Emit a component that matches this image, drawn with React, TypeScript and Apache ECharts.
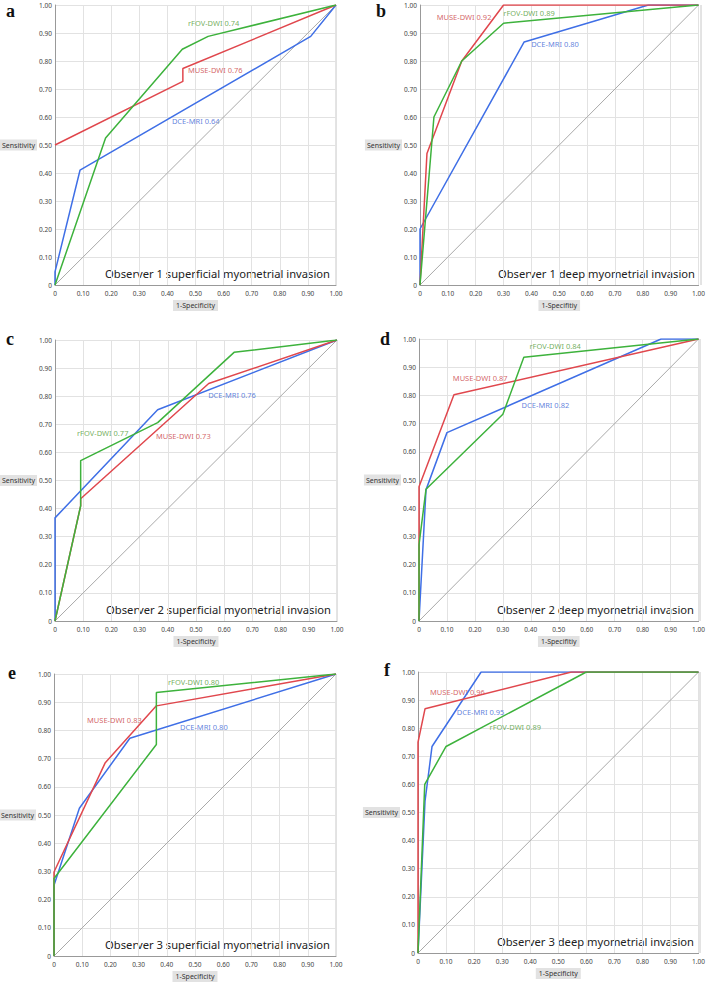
import React, { useEffect, useRef } from "react";
import * as echarts from "echarts";

// ---------- data ----------
const panelLetters = ["a", "b", "c", "d", "e", "f"];
const panelTitles = [
  "Observer 1 superficial myometrial invasion",
  "Observer 1 deep myometrial invasion",
  "Observer 2 superficial myometrial invasion",
  "Observer 2 deep myometrial invasion",
  "Observer 3 superficial myometrial invasion",
  "Observer 3 deep myometrial invasion",
];
const xAxisNames = ["1-Specificity", "1-Specifitiy", "1-Specificity", "1-Specifitiy", "1-Specificity", "1-Specificity"];
const yAxisName = "Sensitivity";
const methodNames = ["MUSE-DWI", "rFOV-DWI", "DCE-MRI"];

const aucMuse = [0.76, 0.92, 0.73, 0.87, 0.83, 0.96];
const aucRfov = [0.74, 0.89, 0.77, 0.84, 0.8, 0.89];
const aucDce = [0.64, 0.8, 0.76, 0.82, 0.8, 0.95];

const diagonal = [[0, 0], [1, 1]];

// ROC points [1-specificity, sensitivity]
const museA = [[0, 0.5], [0.455, 0.727], [0.455, 0.773], [1, 1]];
const rfovA = [[0, 0], [0.18, 0.525], [0.453, 0.842], [0.545, 0.888], [1, 1]];
const dceA = [[0, 0], [0, 0.047], [0.089, 0.41], [0.91, 0.888], [1, 1]];

const museB = [[0, 0], [0.025, 0.47], [0.15, 0.8], [0.3, 1], [1, 1]];
const rfovB = [[0, 0], [0.05, 0.6], [0.15, 0.8], [0.3, 0.935], [1, 1]];
const dceB = [[0, 0], [0, 0.2], [0.374, 0.868], [0.82, 1], [1, 1]];

const museC = [[0, 0], [0.091, 0.41], [0.091, 0.435], [0.545, 0.845], [1, 1]];
const rfovC = [[0, 0], [0.091, 0.41], [0.091, 0.571], [0.364, 0.706], [0.635, 0.956], [1, 1]];
const dceC = [[0, 0], [0, 0.367], [0.364, 0.752], [1, 1]];

const museD = [[0, 0], [0, 0.476], [0.125, 0.802], [1, 1]];
const rfovD = [[0, 0], [0, 0.27], [0.025, 0.467], [0.3, 0.733], [0.375, 0.935], [1, 1]];
const dceD = [[0, 0], [0.025, 0.465], [0.1, 0.668], [0.866, 1], [1, 1]];

const museE = [[0, 0], [0, 0.298], [0.181, 0.684], [0.363, 0.887], [1, 1]];
const rfovE = [[0, 0], [0, 0.275], [0.363, 0.75], [0.363, 0.934], [1, 1]];
const dceE = [[0, 0], [0, 0.251], [0.09, 0.524], [0.269, 0.772], [1, 1]];

const museF = [[0, 0], [0, 0.75], [0.025, 0.869], [0.547, 1], [1, 1]];
const rfovF = [[0, 0], [0.024, 0.6], [0.1, 0.735], [0.6, 1], [1, 1]];
const dceF = [[0, 0], [0.025, 0.54], [0.05, 0.735], [0.225, 1], [1, 1]];

const museCurves = [museA, museB, museC, museD, museE, museF];
const rfovCurves = [rfovA, rfovB, rfovC, rfovD, rfovE, rfovF];
const dceCurves = [dceA, dceB, dceC, dceD, dceE, dceF];

// label anchors (data coords) for MUSE, rFOV, DCE
const museLabelAt = [[0.473, 0.768], [0.06, 0.957], [0.358, 0.658], [0.121, 0.862], [0.117, 0.837], [0.043, 0.929]];
const rfovLabelAt = [[0.473, 0.936], [0.299, 0.971], [0.078, 0.669], [0.395, 0.975], [0.404, 0.972], [0.255, 0.804]];
const dceLabelAt = [[0.416, 0.586], [0.399, 0.861], [0.543, 0.804], [0.367, 0.766], [0.447, 0.812], [0.138, 0.858]];

// ---------- layout / style ----------
const grids = [
  { left: 55, top: 5, width: 281, height: 280 },
  { left: 420, top: 5, width: 281, height: 280 },
  { left: 55, top: 340, width: 282, height: 281 },
  { left: 419, top: 339, width: 281, height: 282 },
  { left: 54, top: 674, width: 282, height: 282 },
  { left: 418, top: 672, width: 282, height: 281 },
];
const letterPos = [
  [6, 2], [376, 2], [6, 330], [380, 330], [8, 664], [384, 661],
];

const RED = "#E0474D";
const GREEN = "#3DB23C";
const BLUE = "#3F6FE6";
const RED_T = "#C9403F";
const GREEN_T = "#4F9A35";
const BLUE_T = "#3A64D4";
const FONT = "'Noto Sans', 'DejaVu Sans', sans-serif";

export default function App() {
  const ref = useRef<HTMLDivElement>(null);
  useEffect(() => {
    if (!ref.current) return;
    const chart = echarts.init(ref.current, undefined, { renderer: "svg" });

    const xAxes: any[] = [];
    const yAxes: any[] = [];
    const series: any[] = [];
    const graphics: any[] = [];

    const fmt = (v: number) => (v === 0 ? "0" : v.toFixed(2));

    grids.forEach((g, i) => {
      xAxes.push({
        type: "value",
        gridIndex: i,
        min: 0,
        max: 1,
        interval: 0.1,
        name: xAxisNames[i],
        nameLocation: "middle",
        nameGap: 15,
        nameTextStyle: {
          fontSize: 7,
          fontFamily: FONT,
          color: "#333",
          backgroundColor: "#e2e2e2",
          padding: [2, 3, 2, 3],
        },
        axisLine: { show: true, lineStyle: { color: "#999", width: 1 } },
        axisTick: { show: false },
        axisLabel: { fontSize: 6.5, color: "#444", margin: 5, formatter: fmt, fontFamily: FONT },
        splitLine: { show: true, lineStyle: { color: "#e2e2e2", width: 1 } },
      });
      yAxes.push({
        type: "value",
        gridIndex: i,
        min: 0,
        max: 1,
        interval: 0.1,
        axisLine: { show: true, lineStyle: { color: "#999", width: 1 } },
        axisTick: { show: false },
        axisLabel: { fontSize: 6.5, color: "#444", margin: 3, formatter: fmt, fontFamily: FONT },
        splitLine: { show: true, lineStyle: { color: "#e2e2e2", width: 1 } },
      });

      const common = {
        type: "line",
        xAxisIndex: i,
        yAxisIndex: i,
        showSymbol: false,
        symbol: "none",
        silent: true,
      };
      series.push({ ...common, data: diagonal, lineStyle: { color: "#a9a9a9", width: 1 } });
      series.push({ ...common, data: dceCurves[i], lineStyle: { color: BLUE, width: 1.5 } });
      series.push({ ...common, data: museCurves[i], lineStyle: { color: RED, width: 1.5 } });
      series.push({ ...common, data: rfovCurves[i], lineStyle: { color: GREEN, width: 1.5 } });

      series.push({
        type: "scatter",
        xAxisIndex: i,
        yAxisIndex: i,
        symbolSize: 0,
        silent: true,
        data: [
          { value: museLabelAt[i], name: methodNames[0] + " " + aucMuse[i].toFixed(2), label: { color: RED_T } },
          { value: rfovLabelAt[i], name: methodNames[1] + " " + aucRfov[i].toFixed(2), label: { color: GREEN_T } },
          { value: dceLabelAt[i], name: methodNames[2] + " " + aucDce[i].toFixed(2), label: { color: BLUE_T } },
        ],
        label: {
          show: true,
          position: "right",
          distance: 0,
          formatter: "{b}",
          fontSize: 7.5,
          fontFamily: FONT,
          align: "left",
          verticalAlign: "middle",
        },
      });

      // right border
      graphics.push({
        type: "line",
        shape: { x1: g.left + g.width, y1: g.top, x2: g.left + g.width, y2: g.top + g.height },
        style: { stroke: "#c8c8c8", lineWidth: 1 },
        silent: true,
      });
      // panel title
      graphics.push({
        type: "text",
        x: g.left + g.width - 6,
        y: g.top + g.height - 12,
        style: {
          text: panelTitles[i],
          fontSize: 11.2,
          fontFamily: FONT,
          fill: "#222",
          align: "right",
          verticalAlign: "middle",
        },
        silent: true,
      });
      // Sensitivity label
      graphics.push({
        type: "text",
        x: g.left - 18,
        y: g.top + g.height / 2,
        style: {
          text: yAxisName,
          fontSize: 7,
          fontFamily: FONT,
          fill: "#333",
          align: "right",
          verticalAlign: "middle",
          backgroundColor: "#e2e2e2",
          padding: [2, 2, 2, 2],
        },
        silent: true,
      });
      // panel letter
      graphics.push({
        type: "text",
        x: letterPos[i][0],
        y: letterPos[i][1],
        style: {
          text: panelLetters[i],
          fontSize: 18,
          fontWeight: "bold",
          fontFamily: "'Liberation Serif', 'DejaVu Serif', serif",
          fill: "#111",
        },
        silent: true,
      });
    });

    chart.setOption({
      animation: false,
      backgroundColor: "#fff",
      grid: grids.map((g) => ({ ...g, containLabel: false })),
      xAxis: xAxes,
      yAxis: yAxes,
      series,
      graphic: graphics,
    });

    return () => chart.dispose();
  }, []);

  return (
    <div
      ref={ref}
      style={{ position: "absolute", left: 0, top: 0, width: 708, height: 985, background: "#fff" }}
    />
  );
}
